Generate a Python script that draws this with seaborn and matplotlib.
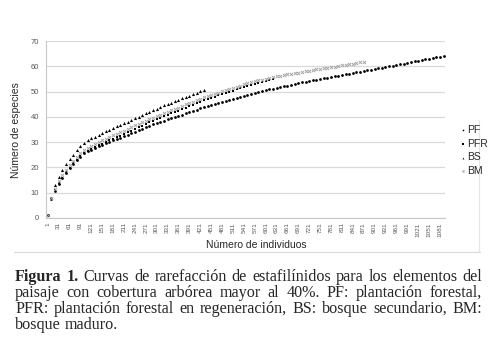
import matplotlib.pyplot as plt
import seaborn as sns
import numpy as np
from matplotlib.lines import Line2D

# rarefaction curves, one value every 10 individuals (1, 11, 21, ...)
individuos = list(range(1, 1092, 10))

pf = [1, 7.5, 10.8, 13.6, 15.9, 17.9, 19.7, 21.4, 22.9, 24.3, 25.6,
      26.3, 27.0, 27.7, 28.3, 29.0, 29.6, 30.1, 30.7, 31.3, 31.8,
      32.4, 33.0, 33.6, 34.2, 34.8, 35.3, 35.9, 36.4, 37.0, 37.5,
      38.0, 38.5, 39.0, 39.5, 40.0, 40.4, 40.9, 41.4, 41.9, 42.4, 42.9, 43.4, 43.8, 44.3,
      44.7, 45.1, 45.5, 45.9, 46.3, 46.8, 47.2, 47.6, 48.0, 48.4, 48.8,
      49.2, 49.5, 49.9, 50.2, 50.5, 50.9, 51.2,
      51.5, 51.8, 52.1, 52.4, 52.7, 53.0, 53.3, 53.6, 53.9, 54.2,
      54.5, 54.7, 55.0, 55.3, 55.5, 55.8, 56.0, 56.3, 56.6, 56.8, 57.1, 57.3, 57.6, 57.9,
      58.1, 58.4, 58.7, 58.9, 59.2,
      59.5, 59.7, 60.0, 60.3, 60.5, 60.8, 61.1, 61.3, 61.6, 61.9, 62.1, 62.4, 62.7, 62.9,
      63.2, 63.5, 63.7, 64.0]

pfr = [1, 7.5, 11.0, 13.8, 16.0, 18.0, 19.9, 21.6, 23.1, 24.5, 25.8,
       26.6, 27.4, 28.1, 28.8, 29.4, 30.1, 30.8, 31.4, 32.0, 32.6,
       33.3, 33.9, 34.6, 35.2, 35.9, 36.5, 37.1, 37.8, 38.4, 39.0,
       39.6, 40.2, 40.8, 41.4, 41.9, 42.5, 43.1, 43.7, 44.2, 44.8, 45.4, 45.9, 46.5, 47.0,
       47.5, 48.0, 48.5, 49.0, 49.5, 50.0, 50.4, 50.9, 51.4, 51.9, 52.3,
       52.7, 53.1, 53.5, 53.9, 54.3, 54.6, 55.0]

bs = [1, 8.0, 13.0, 16.3, 19.0, 21.5, 23.2, 25.1, 26.8, 28.3, 29.8,
      30.7, 31.5, 32.2, 33.0, 33.6, 34.3, 35.0, 35.6, 36.2, 36.8,
      37.5, 38.1, 38.8, 39.4, 40.1, 40.7, 41.4, 42.0, 42.7, 43.3,
      43.9, 44.5, 45.1, 45.6, 46.2, 46.8, 47.3, 47.9, 48.4, 49.0, 49.5, 50.1, 50.6]

bm = [1, 7.8, 11.6, 14.6, 17.0, 19.1, 21.0, 22.7, 24.2, 25.6, 26.9,
      27.7, 28.5, 29.3, 30.0, 30.7, 31.4, 32.1, 32.7, 33.4, 34.0,
      34.6, 35.3, 35.9, 36.6, 37.2, 37.8, 38.4, 39.0, 39.6, 40.2,
      40.8, 41.4, 42.0, 42.6, 43.2, 43.7, 44.3, 44.9, 45.5, 46.0, 46.6, 47.1, 47.7, 48.2,
      48.7, 49.2, 49.6, 50.1, 50.5, 51.0, 51.4, 51.9, 52.3, 52.8, 53.2,
      53.6, 54.0, 54.4, 54.7, 55.1, 55.4, 55.7, 56.0, 56.3, 56.5, 56.8, 57.0, 57.3, 57.5,
      57.8, 58.0, 58.3, 58.5, 58.8, 59.0,
      59.2, 59.5, 59.7, 59.9, 60.2, 60.4, 60.6, 60.9, 61.1, 61.3, 61.6, 61.8]

x_labels = list(range(1, 1082, 30))

caption = [
    [("Figura", True), ("1.", True), ("Curvas", False), ("de", False), ("rarefacción", False),
     ("de", False), ("estafilínidos", False), ("para", False), ("los", False),
     ("elementos", False), ("del", False)],
    [(w, False) for w in "paisaje con cobertura arbórea mayor al 40%. PF: plantación forestal,".split()],
    [(w, False) for w in "PFR: plantación forestal en regeneración, BS: bosque secundario, BM:".split()],
    [(w, False) for w in "bosque maduro.".split()],
]

sns.set_style('white')
plt.rcParams['font.family'] = ['Liberation Sans', 'DejaVu Sans']

W, H = 500, 348
fig = plt.figure(figsize=(W / 100, H / 100), dpi=100)
ax = fig.add_axes([45.9 / W, 1 - 218 / H, 399.5 / W, 177 / H])

series = [('PF', pf, 'o', 'black', 4), ('PFR', pfr, 's', 'black', 4.5),
          ('BS', bs, '^', 'black', 5), ('BM', bm, 'x', '#a6a6a6', 5)]
for name, vals, mk, col, sz in series:
    if mk == 'x':
        sns.scatterplot(x=individuos[:len(vals)], y=vals, marker=mk, color=col, s=sz,
                        linewidth=0.7, label=name, ax=ax, zorder=3)
    else:
        sns.scatterplot(x=individuos[:len(vals)], y=vals, marker=mk, color=col, s=sz,
                        linewidth=0, label=name, ax=ax, zorder=3)

ax.set_xlim(-4, 1096)
ax.set_ylim(0, 70)
ax.set_yticks(range(0, 71, 10))
ax.grid(axis='y', color='#d9d9d9', lw=0.9)
ax.set_axisbelow(True)
for s in ['top', 'right']:
    ax.spines[s].set_visible(False)
for s in ['left', 'bottom']:
    ax.spines[s].set_color('#c8c8c8')
    ax.spines[s].set_linewidth(0.8)

ax.set_xticks(x_labels)
ax.set_xticklabels([str(v) for v in x_labels], rotation=90)
ax.set_xticks(np.arange(-4, 1097, 10), minor=True)
ax.tick_params(axis='x', which='major', length=0, pad=3, labelsize=4.6, labelcolor='#595959')
ax.tick_params(axis='x', which='minor', length=2.5, width=0.5, color='#c8c8c8', direction='out')
ax.tick_params(axis='y', length=0, pad=5, labelsize=5.5, labelcolor='#595959')
ax.set_xlabel('')
ax.set_ylabel('')

fig.text(16 / W, 1 - 130 / H, 'Número de especies', rotation=90, ha='center', va='center',
         fontsize=7.5, color='#262626')
fig.text(256 / W, 1 - 245 / H, 'Número de individuos', ha='center', va='center',
         fontsize=7.5, color='#262626')

handles, labels = ax.get_legend_handles_labels()
ax.get_legend().remove()
fig.legend(handles, labels, loc='upper left', bbox_to_anchor=(455 / W, 1 - 120 / H),
           frameon=False, fontsize=7.5, handletextpad=0.1, labelspacing=0.35,
           handlelength=0.6, borderpad=0, labelcolor='#262626', markerscale=0.6)

# faint chart frame
fig.add_artist(Line2D([14 / W, 480 / W], [1 - 252 / H, 1 - 252 / H], color='#d9d9d9', lw=0.8))
fig.add_artist(Line2D([479 / W, 479 / W], [1 - 120 / H, 1 - 252 / H], color='#e4e4e4', lw=0.8))

# justified caption below the chart
renderer = fig.canvas.get_renderer()
x0, x1 = 15, 482
fs = 11.6
baselines = [281, 297, 313, 329]
for i, line in enumerate(caption):
    texts = [fig.text(0, 1 - baselines[i] / H, w, fontsize=fs, va='baseline',
                      family=['Liberation Serif', 'DejaVu Serif'],
                      fontweight='bold' if b else 'normal')
             for w, b in line]
    widths = [t.get_window_extent(renderer).width for t in texts]
    if i < len(caption) - 1:
        gap = (x1 - x0 - sum(widths)) / (len(texts) - 1)
    else:
        gap = fs * 100 / 72 * 0.25
    pos = x0
    for t, wd in zip(texts, widths):
        t.set_x(pos / W)
        pos += wd + gap

fig.savefig('out.png', dpi=100)
